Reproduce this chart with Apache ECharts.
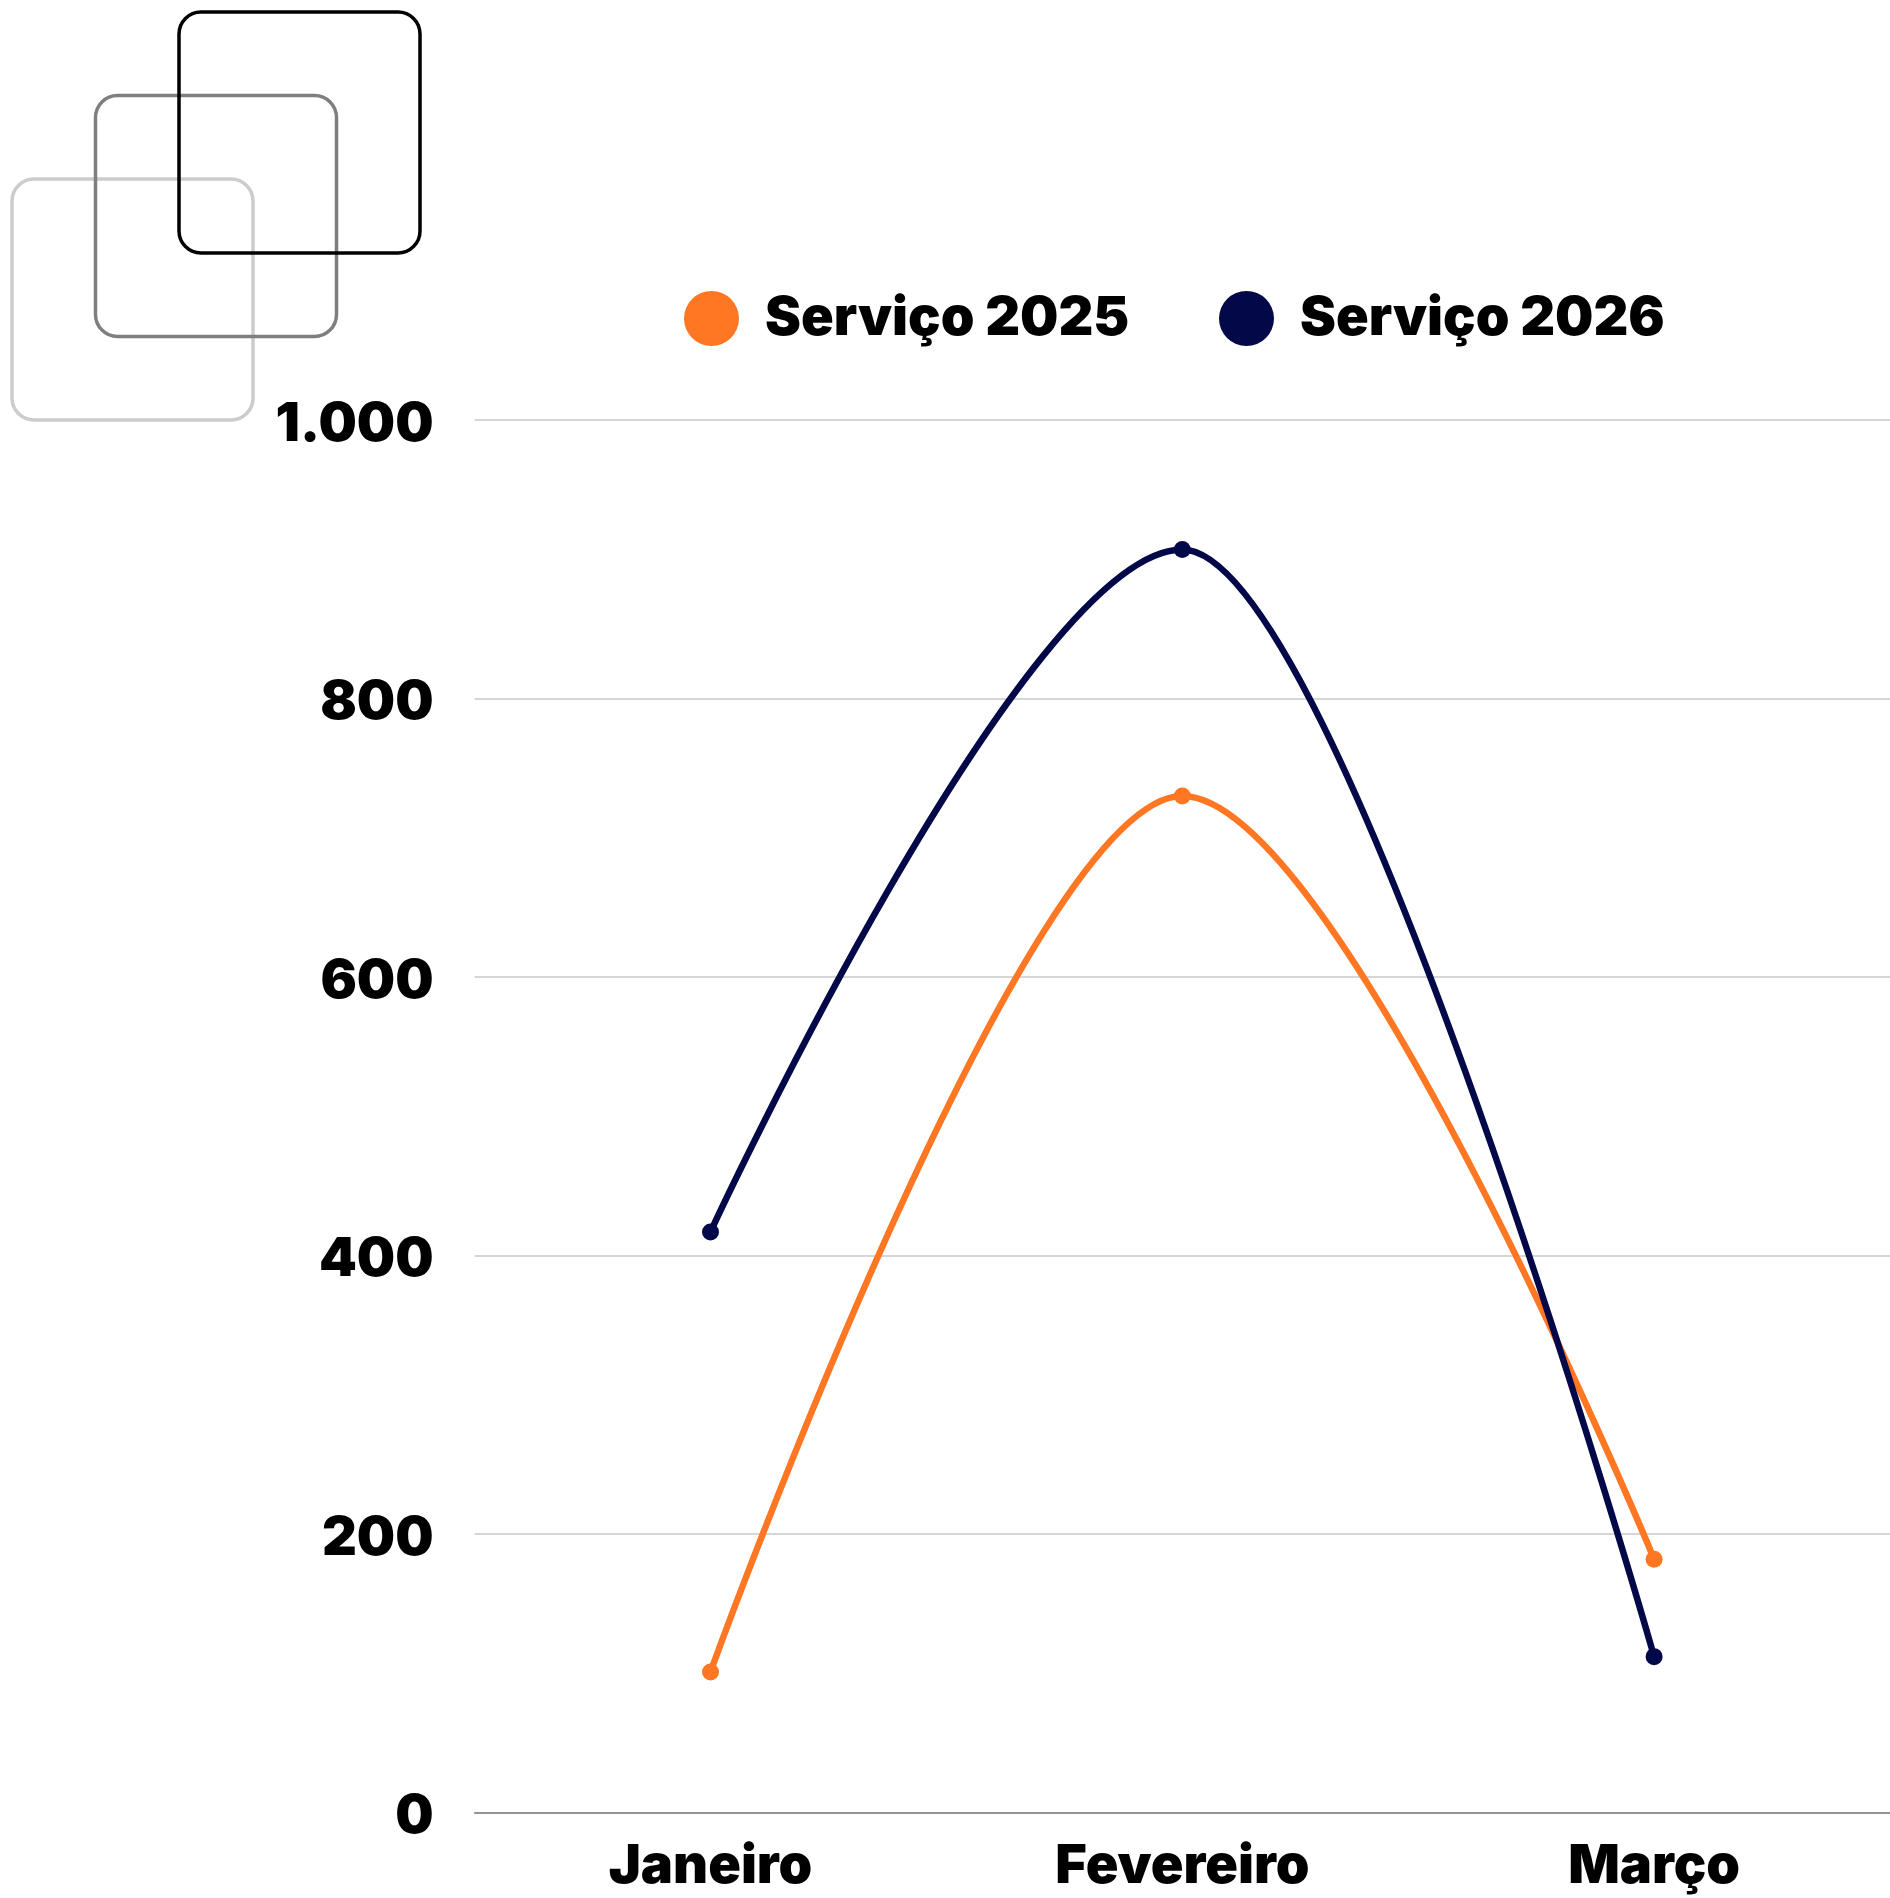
<!DOCTYPE html>
<html>
<head>
<meta charset="utf-8">
<style>
  html, body { margin: 0; padding: 0; background: #fff; }
  #main { width: 1890px; height: 1898px; }
</style>
<script src="https://cdn.jsdelivr.net/npm/echarts@6/dist/echarts.min.js"></script>
</head>
<body>
<div id="main"></div>
<script>
// dados do gráfico
const months = ["Janeiro", "Fevereiro", "Março"];
const servico2025 = [101, 730, 182];
const servico2026 = [417, 907, 112];
const yTicks = [0, 200, 400, 600, 800, 1000];

const FONT = "Inter, 'Noto Sans', sans-serif";
const ORANGE = "#ff7723";
const NAVY = "#030848";

const chart = echarts.init(document.getElementById("main"));

function fmt(v) {
  // separador de milhar no formato pt-BR
  return "{v|" + String(v).replace(/\B(?=(\d{3})+(?!\d))/g, ".") + "}";
}

function legendAt(left, name) {
  return {
    left: left,
    top: 291,
    padding: 0,
    icon: "circle",
    itemWidth: 55,
    itemHeight: 55,
    data: [name],
    selectedMode: false,
    textStyle: {
      fontFamily: FONT,
      fontWeight: 900,
      fontSize: 54,
      color: "#000",
      padding: [0, 0, 0, 21],
    },
  };
}

function square(x, y, color) {
  return {
    type: "rect",
    shape: { x: x, y: y, width: 241, height: 241, r: 22 },
    style: { fill: "none", stroke: color, lineWidth: 3.5 },
    silent: true,
  };
}

chart.setOption({
  animation: false,
  backgroundColor: "#fff",
  graphic: [
    square(12, 179, "#cccccc"),
    square(95.5, 95.5, "#7f7f7f"),
    square(179, 12, "#000000"),
  ],
  legend: [legendAt(684, "Serviço 2025"), legendAt(1219, "Serviço 2026")],
  grid: {
    left: 474.6,
    right: 0,
    top: 420,
    bottom: 85.4,
    containLabel: false,
  },
  xAxis: {
    type: "category",
    data: months,
    boundaryGap: true,
    axisTick: { show: false },
    axisLine: { lineStyle: { color: "#7f7f7f", width: 1.5 } },
    axisLabel: {
      margin: 27,
      fontFamily: FONT,
      fontWeight: 900,
      fontSize: 54,
      color: "#000",
    },
  },
  yAxis: {
    type: "value",
    min: yTicks[0],
    max: yTicks[yTicks.length - 1],
    interval: yTicks[1] - yTicks[0],
    axisLine: { show: false },
    axisTick: { show: false },
    splitLine: { lineStyle: { color: "#c8c8c8", width: 1.5 } },
    axisLabel: {
      margin: 41,
      formatter: fmt,
      rich: {
        v: {
          fontFamily: FONT,
          fontWeight: 900,
          fontSize: 54,
          color: "#000",
          padding: [9, 0, 0, 0],
        },
      },
    },
  },
  series: [
    {
      name: "Serviço 2025",
      type: "line",
      data: servico2025,
      smooth: 0.33,
      smoothMonotone: "x",
      symbol: "circle",
      symbolSize: 17,
      itemStyle: { color: ORANGE },
      lineStyle: { color: ORANGE, width: 6.5 },
    },
    {
      name: "Serviço 2026",
      type: "line",
      data: servico2026,
      smooth: 0.33,
      smoothMonotone: "x",
      symbol: "circle",
      symbolSize: 17,
      itemStyle: { color: NAVY },
      lineStyle: { color: NAVY, width: 6.5 },
    },
  ],
});
</script>
</body>
</html>
